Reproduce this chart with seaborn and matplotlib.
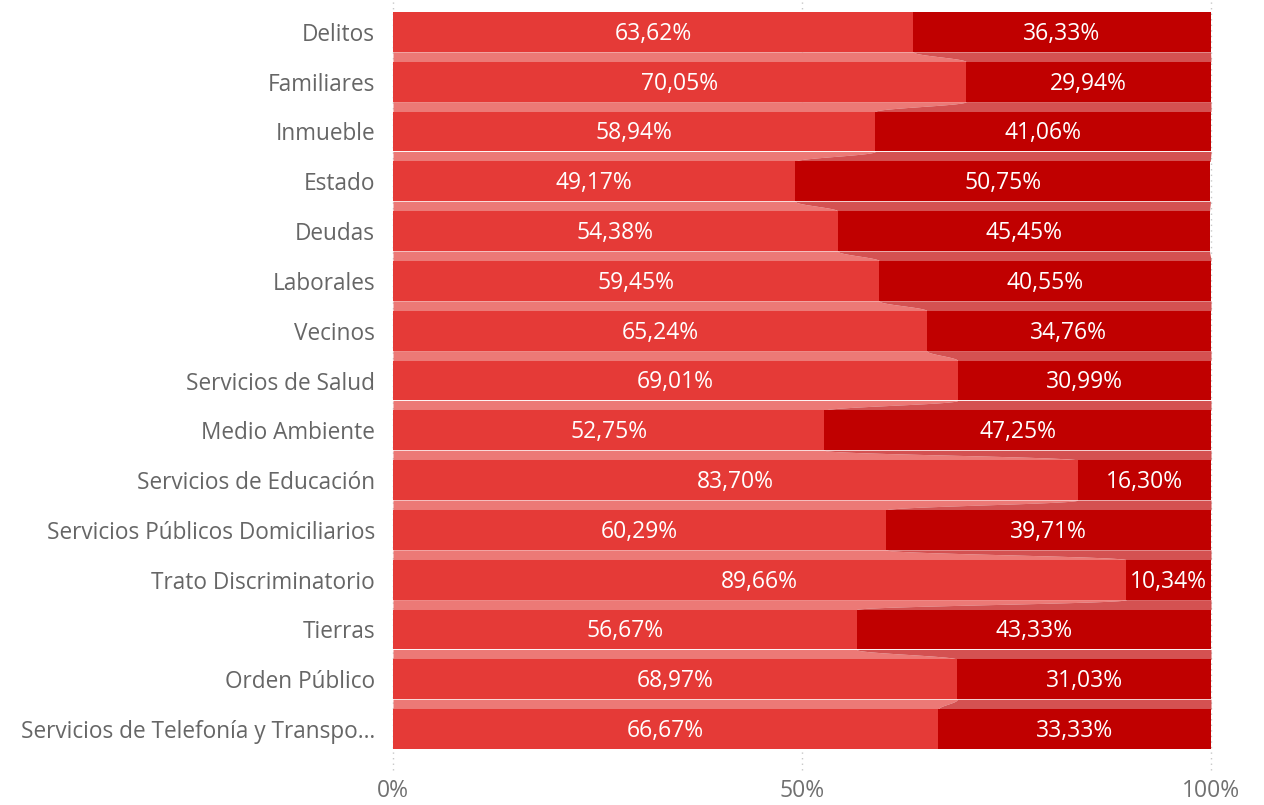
import numpy as np
import pandas as pd
import matplotlib
matplotlib.use("Agg")
import matplotlib.pyplot as plt
import seaborn as sns

categories = ["Delitos", "Familiares", "Inmueble", "Estado", "Deudas", "Laborales",
              "Vecinos", "Servicios de Salud", "Medio Ambiente", "Servicios de Educación",
              "Servicios Públicos Domiciliarios", "Trato Discriminatorio", "Tierras",
              "Orden Público", "Servicios de Telefonía y Transpo…"]
serie_a = [63.62, 70.05, 58.94, 49.17, 54.38, 59.45, 65.24, 69.01, 52.75, 83.70,
           60.29, 89.66, 56.67, 68.97, 66.67]
serie_b = [36.33, 29.94, 41.06, 50.75, 45.45, 40.55, 34.76, 30.99, 47.25, 16.30,
           39.71, 10.34, 43.33, 31.03, 33.33]
x_ticks = [0, 50, 100]
x_ticklabels = ["0%", "50%", "100%"]

col_a = "#E53A37"
col_b = "#C00000"
rib_a = "#EC7976"
rib_b = "#D45151"

sns.set_theme(style="white")
plt.rcParams["font.family"] = ["Open Sans", "DejaVu Sans"]

df = pd.DataFrame({"cat": categories, "a": serie_a, "b": serie_b})
df["total"] = df["a"] + df["b"]

fig = plt.figure(figsize=(12.64, 8.05), dpi=100)
ax = fig.add_axes([393 / 1264, 1 - 754 / 805, (1211 - 393) / 1264, (754 - 7) / 805])

bw = 0.8
sns.barplot(data=df, x="total", y="cat", orient="h", color=col_b, saturation=1,
            width=bw, linewidth=0, ax=ax, zorder=3)
sns.barplot(data=df, x="a", y="cat", orient="h", color=col_a, saturation=1,
            width=bw, linewidth=0, ax=ax, zorder=4)

# ribbons between bars
n = len(categories)
for i in range(n - 1):
    y0 = i + bw / 2
    y1 = i + 1 - bw / 2
    yy = np.linspace(y0, y1, 60)
    t = (yy - y0) / (y1 - y0)
    s = 0.5 - 0.5 * np.cos(np.pi * t)
    bnd = df["a"][i] + (df["a"][i + 1] - df["a"][i]) * s
    tot = df["total"][i] + (df["total"][i + 1] - df["total"][i]) * s
    ax.fill_betweenx(yy, 0, bnd, color=rib_a, linewidth=0, zorder=2)
    ax.fill_betweenx(yy, bnd, tot, color=rib_b, linewidth=0, zorder=2)

# data labels
for i in range(n):
    a = df["a"][i]
    b = df["b"][i]
    ax.text(a / 2, i + 0.04, f"{a:.2f}%".replace(".", ","), color="white", ha="center",
            va="center", fontsize=16.5, zorder=6)
    ax.text(a + b / 2, i + 0.04, f"{b:.2f}%".replace(".", ","), color="white", ha="center",
            va="center", fontsize=16.5, zorder=6)

ax.set_xlim(0, 100)
ax.set_ylim(n - 0.5, -0.5)
ax.set_xlabel("")
ax.set_ylabel("")
ax.set_xticks(x_ticks)
ax.set_xticklabels(x_ticklabels)
ax.tick_params(axis="x", length=0, pad=18, labelsize=16.5, labelcolor="#707070")
ax.tick_params(axis="y", length=0, pad=13, labelsize=16.3, labelcolor="#666666")
for sp in ax.spines.values():
    sp.set_visible(False)

# dotted gridlines extending beyond the axes
trans = matplotlib.transforms.blended_transform_factory(ax.transData, ax.transAxes)
for xv in x_ticks:
    ax.plot([xv, xv], [-0.022, 1.01], transform=trans, color="#C8C8C8",
            linestyle=(0, (1, 3)), linewidth=1, clip_on=False, zorder=1)

fig.savefig("out.png", dpi=100)
